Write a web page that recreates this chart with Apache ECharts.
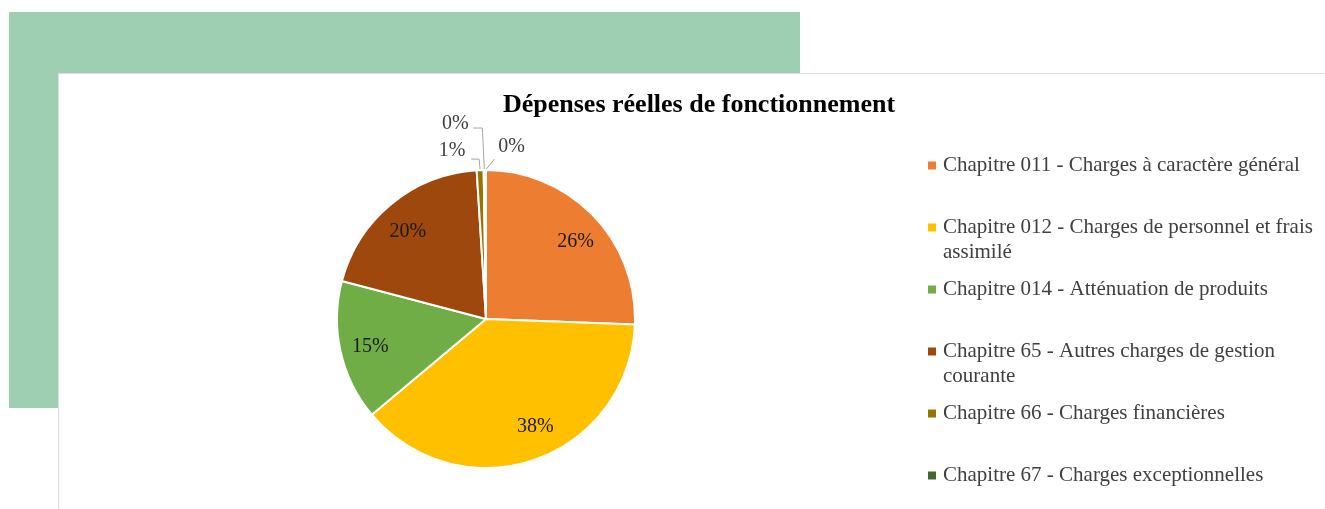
<!DOCTYPE html>
<html>
<head>
<meta charset="utf-8">
<title>Dépenses réelles de fonctionnement</title>
<script src="https://cdn.jsdelivr.net/npm/echarts@6/dist/echarts.min.js"></script>
<style>
  html, body { margin: 0; padding: 0; background: #fff; }
  .green { position: absolute; left: 9px; top: 12px; width: 791px; height: 396px; background: #9ECFB2; }
  .panel { position: absolute; left: 58px; top: 73px; right: 0; bottom: 0; background: #fff;
           border-left: 1px solid #dcdcdc; border-top: 1px solid #dcdcdc; }
  #chart { position: absolute; left: 0; top: 0; width: 1325px; height: 509px; }
</style>
</head>
<body>
<div class="green"></div>
<div class="panel"></div>
<div id="chart"></div>
<script>
// données
const categories = [
  "Chapitre 011 - Charges à caractère général",
  "Chapitre 012 - Charges de personnel et frais assimilé",
  "Chapitre 014 - Atténuation de produits",
  "Chapitre 65 - Autres charges de gestion courante",
  "Chapitre 66 - Charges financières",
  "Chapitre 67 - Charges exceptionnelles",
  "Autres"
];
const values = [25.6, 38.3, 15.2, 19.9, 0.75, 0.15, 0.1];
const colors = ["#ED7D31", "#FFC000", "#70AD47", "#9E480E", "#997300", "#43682B", "#698ED0"];
const legendNames = categories.slice(0, 6);

const serif = "'Liberation Serif', 'DejaVu Serif', serif";
const pctLabel = p => Math.round(p.percent) + "%";

// petits ajustements des étiquettes intérieures
const insideOffsets = [[2, 7], [10, -7], [3, 1], [-1, 7], [0, 0], [0, 0], [0, 0]];

// placement des petites étiquettes (décalages depuis le bord de la part)
const smallLabels = {
  4: { dx: -28, dy: -19, line: [[0, 0], [-1, -11], [-9, -11]] },
  5: { dx: -29, dy: -46, line: [[0, 0], [-2, -42], [-11, -42]] },
  6: { dx: 26, dy: -23, line: [[0, 0], [9, -11]] }
};

// coupe le libellé de légende en deux lignes
const wrap = (s, max) => {
  const lines = [""];
  s.split(" ").forEach(w => {
    const cur = lines[lines.length - 1];
    if (cur && (cur + " " + w).length > max) lines.push(w);
    else lines[lines.length - 1] = cur ? cur + " " + w : w;
  });
  return lines;
};

const rich = {
  s: { width: 7 },
  i: { width: 15 },
  t: { fontFamily: serif, fontSize: 21, color: "#404040", lineHeight: 25 }
};
colors.forEach((c, i) => { rich["m" + i] = { width: 8, height: 8, backgroundColor: c }; });

const chart = echarts.init(document.getElementById("chart"));
chart.setOption({
  backgroundColor: "transparent",
  animation: false,
  title: {
    text: "Dépenses réelles de fonctionnement",
    left: 694,
    top: 87,
    textAlign: "center",
    textStyle: { fontFamily: serif, fontWeight: "bold", fontSize: 26, color: "#000" }
  },
  legend: {
    orient: "vertical",
    left: 922,
    top: 153,
    height: 420,
    padding: 0,
    itemGap: 12,
    itemWidth: 0,
    itemHeight: 0,
    icon: "rect",
    data: legendNames,
    formatter: name => {
      const i = categories.indexOf(name);
      const lines = wrap(name, 44);
      if (lines.length < 2) lines.push(" ");
      return "{m" + i + "|}{s|}{t|" + lines[0] + "}\n{i|}{t|" + lines[1] + "}";
    },
    textStyle: { rich: rich, lineHeight: 25 }
  },
  series: [
    {
      type: "pie",
      center: [486, 319],
      radius: [0, 149],
      startAngle: 90,
      avoidLabelOverlap: false,
      itemStyle: { borderColor: "#fff", borderWidth: 2 },
      emphasis: { disabled: true },
      label: {
        position: "outside",
        formatter: pctLabel,
        fontFamily: serif,
        fontSize: 20,
        color: "#404040"
      },
      labelLine: { show: true, length: 8, length2: 8, lineStyle: { color: "#A6A6A6", width: 1 } },
      labelLayout: p => {
        const cfg = smallLabels[p.dataIndex];
        if (!cfg || !p.labelLinePoints) return {};
        const ax = p.labelLinePoints[0][0], ay = p.labelLinePoints[0][1];
        return {
          x: ax + cfg.dx,
          y: ay + cfg.dy,
          align: "center",
          verticalAlign: "middle",
          labelLinePoints: cfg.line.map(q => [ax + q[0], ay + q[1]])
        };
      },
      data: values.map((v, i) => ({
        name: categories[i],
        value: v,
        itemStyle: { color: colors[i] },
        label: { show: v < 2 },
        labelLine: { show: v < 2 }
      }))
    },
    {
      // anneau transparent pour poser les pourcentages vers l'extérieur
      type: "pie",
      silent: true,
      center: [486, 319],
      radius: [88, 149],
      startAngle: 90,
      legendHoverLink: false,
      itemStyle: { color: "rgba(0,0,0,0)", borderWidth: 0 },
      label: {
        position: "inside",
        formatter: pctLabel,
        fontFamily: serif,
        fontSize: 20,
        color: "#1a1a1a"
      },
      labelLine: { show: false },
      data: values.map((v, i) => ({
        value: v,
        label: { show: v >= 2, offset: insideOffsets[i] }
      }))
    }
  ]
});
</script>
</body>
</html>
